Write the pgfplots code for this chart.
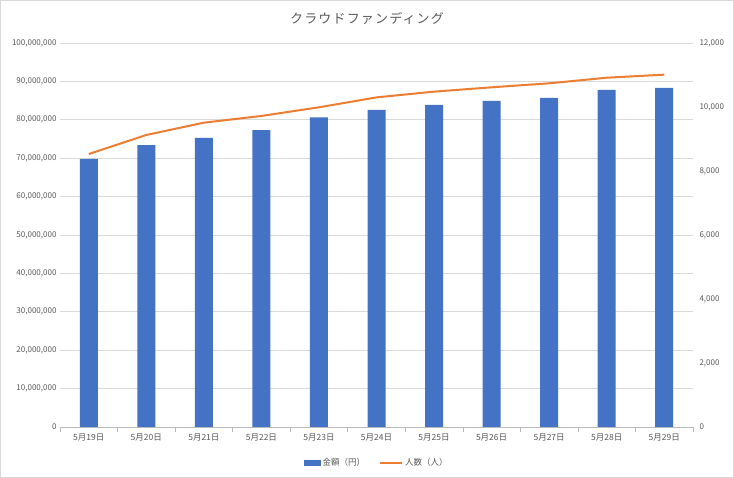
\documentclass[border=0pt]{standalone}
\usepackage{pgfplots}
\pgfplotsset{compat=1.18}
\usepackage{fontspec}
\setmainfont{Noto Sans CJK JP}
\definecolor{barblue}{HTML}{4472C4}
\definecolor{lineorange}{HTML}{ED7D31}
\definecolor{gridgray}{HTML}{D9D9D9}
\definecolor{txtgray}{HTML}{595959}
\definecolor{framegray}{HTML}{D9D9D9}
\begin{document}
\begin{tikzpicture}[x=1pt,y=1pt]
\fill[white] (0,0) rectangle (734,478);
\draw[framegray, line width=1pt] (0.5,0.5) rectangle (733.5,477.5);
\node[text=txtgray, font=\fontsize{13}{15}\selectfont\addfontfeatures{LetterSpace=9}] at (367,460) {クラウドファンディング};
\begin{axis}[
  at={(60pt,51pt)}, anchor=south west,
  scale only axis, width=633pt, height=384pt,
  xmin=-0.5, xmax=10.5, ymin=0, ymax=100000000,
  axis x line*=bottom, axis y line*=left,
  y axis line style={draw=none},
  x axis line style={draw=gray!55, line width=0.6pt},
  xtick={0,...,10},
  xticklabels={5月19日,5月20日,5月21日,5月22日,5月23日,5月24日,5月25日,5月26日,5月27日,5月28日,5月29日},
  minor xtick={-0.5,0.5,...,10.5},
  tick align=outside,
  major tick length=0pt,
  minor tick length=5pt,
  minor tick style={draw=gray!55, line width=0.6pt},
  ytick={0,10000000,...,100000000},
  ymajorgrids, grid style={gridgray, line width=0.6pt},
  scaled y ticks=false,
  /pgf/number format/fixed,
  /pgf/number format/1000 sep={,},
  /pgf/number format/assume math mode=true,
  ticklabel style={text=txtgray},
  yticklabel style={font=\fontsize{8}{9}\selectfont},
  xticklabel style={font=\fontsize{8.5}{10}\selectfont, yshift=-3pt},
  legend style={at={(0.5,-0.094)}, anchor=center, draw=none, fill=none,
    legend columns=2, font=\fontsize{8.5}{10}\selectfont, text=txtgray,
    /tikz/every even column/.append style={column sep=12pt}},
]
\addplot[ybar, bar width=18pt, fill=barblue, draw=none,
  legend image code/.code={\fill[barblue] (0pt,-3pt) rectangle (17pt,3pt);}]
  coordinates {(0,69800000) (1,73400000) (2,75300000) (3,77300000) (4,80600000) (5,82600000) (6,83900000) (7,84900000) (8,85700000) (9,87800000) (10,88300000)};
\addlegendentry{金額（円）}
\addlegendimage{legend image code/.code={\draw[lineorange, line width=2pt] (0pt,0pt) -- (22pt,0pt);}}
\addlegendentry{人数（人）}
\end{axis}
\begin{axis}[
  at={(60pt,51pt)}, anchor=south west,
  scale only axis, width=633pt, height=384pt,
  xmin=-0.5, xmax=10.5, ymin=0, ymax=12000,
  axis x line=none, axis y line*=right,
  y axis line style={draw=none},
  major tick length=0pt,
  ytick={0,2000,...,12000},
  scaled y ticks=false,
  /pgf/number format/fixed,
  /pgf/number format/1000 sep={,},
  /pgf/number format/assume math mode=true,
  yticklabel style={font=\fontsize{8}{9}\selectfont, text=txtgray, xshift=3pt},
]
\addplot[lineorange, line width=2pt, line join=round]
  coordinates {(0,8530) (1,9125) (2,9510) (3,9720) (4,9990) (5,10300) (6,10480) (7,10615) (8,10740) (9,10915) (10,11010)};
\end{axis}
\end{tikzpicture}
\end{document}
